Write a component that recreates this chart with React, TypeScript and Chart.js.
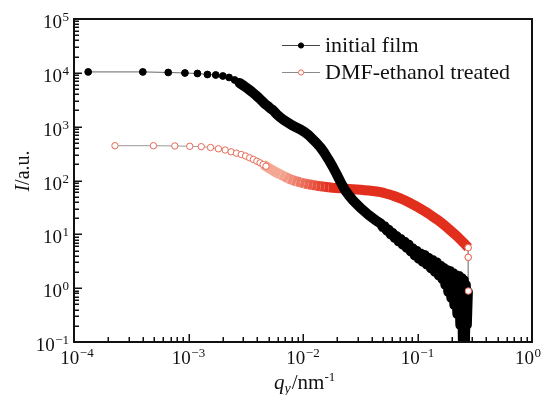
import React, { useEffect, useRef } from "react";
import { Chart, registerables } from "chart.js";

Chart.register(...registerables);

const FONT = '"Liberation Serif", "Times New Roman", serif';

// axis ranges and tick decades
const X_MIN = 1e-4;
const X_MAX = 1;
const Y_MIN = 0.1;
const Y_MAX = 1e5;
const xTickExponents = [-4, -3, -2, -1, 0];
const yTickExponents = [-1, 0, 1, 2, 3, 4, 5];

const seriesLabels = ["initial film", "DMF-ethanol treated"];

// initial film: q (nm^-1) and intensity (a.u.)
const filmQ = [
  1.33e-4, 3.99e-4, 6.65e-4, 9.31e-4, 1.197e-3, 1.463e-3, 1.729e-3, 1.995e-3, 2.261e-3, 2.527e-3,
  2.793e-3, 3.059e-3, 3.325e-3, 3.591e-3, 3.857e-3, 4.123e-3, 4.389e-3, 4.655e-3, 4.921e-3, 5.187e-3,
  5.453e-3,
  5.86e-3, 6.35e-3, 6.89e-3, 7.47e-3, 8.09e-3, 8.77e-3, 9.51e-3, 1.031e-2, 1.117e-2, 1.211e-2,
  1.313e-2, 1.423e-2, 1.542e-2, 1.672e-2, 1.812e-2, 1.964e-2, 2.129e-2, 2.308e-2, 2.502e-2, 2.712e-2,
  2.94e-2, 3.187e-2, 3.454e-2, 3.744e-2, 4.059e-2, 4.4e-2,
  4.77e-2, 4.966e-2, 5.17e-2, 5.38e-2, 5.6e-2, 5.83e-2, 6.07e-2, 6.32e-2, 6.58e-2, 6.85e-2,
  7.13e-2, 7.42e-2, 7.73e-2, 8.05e-2, 8.38e-2, 8.72e-2, 9.08e-2, 9.45e-2, 9.85e-2, 0.1025,
  0.1067, 0.1111, 0.1157, 0.1204, 0.1254, 0.1305, 0.1359, 0.1415, 0.1473, 0.1534,
  0.1597, 0.1647, 0.1697, 0.175, 0.1803, 0.1858, 0.1916, 0.1975, 0.2035, 0.2098,
  0.2162, 0.2229, 0.2297, 0.2367, 0.244, 0.249, 0.2541, 0.2592, 0.2645, 0.2698,
  0.2754,
];
const filmI = [
  10400, 10400, 10160, 9930, 9720, 9310, 9120, 8740, 8200, 7370,
  6480, 5700, 5010, 4410, 3880, 3410, 3000, 2640, 2420, 2180,
  2040,
  1722, 1482, 1303, 1170, 1051, 966, 887, 796, 700, 590,
  498, 410, 324, 245, 182, 132, 93.8, 68.1, 53.8, 43.5,
  36.6, 30.8, 26.6, 22.9, 20.1, 17.7,
  15.9, 13.7, 14.1, 11.8, 12.25, 10.0, 10.6, 8.55, 9.28, 7.36,
  8.19, 6.45, 7.27, 5.6, 6.45, 4.8, 5.51, 4.06, 4.93, 3.51,
  4.41, 3.1, 4.12, 2.74, 3.68, 2.37, 3.31, 2.02, 3.01, 1.72,
  2.58, 1.48, 2.37, 1.15, 2.18, 0.85, 2.08, 0.656, 1.91, 0.486,
  1.76, 0.331, 1.68, 0.207, 1.55, 0.109, 1.42, 0.071, 1.15, 0.207,
  0.85,
];

// DMF-ethanol treated film
const treatedQ = [
  2.28e-4, 4.94e-4, 7.6e-4, 1.026e-3, 1.292e-3, 1.558e-3, 1.824e-3, 2.09e-3, 2.356e-3, 2.622e-3,
  2.888e-3, 3.154e-3, 3.42e-3, 3.686e-3, 3.952e-3, 4.218e-3, 4.484e-3, 4.75e-3, 5.016e-3, 5.282e-3,
  5.548e-3,
  5.86e-3, 6.35e-3, 6.89e-3, 7.47e-3, 8.09e-3, 8.77e-3, 9.51e-3, 1.031e-2, 1.117e-2, 1.211e-2,
  1.313e-2, 1.423e-2, 1.542e-2, 1.672e-2, 1.812e-2, 1.964e-2, 2.129e-2, 2.308e-2, 2.502e-2, 2.712e-2,
  2.94e-2, 3.187e-2, 3.454e-2, 3.744e-2, 4.059e-2, 4.4e-2, 4.77e-2, 5.17e-2, 5.6e-2, 6.07e-2,
  6.58e-2, 7.13e-2, 7.73e-2, 8.38e-2, 9.08e-2, 9.85e-2, 0.1067, 0.1157, 0.1254, 0.1359,
  0.1473, 0.1597, 0.1733, 0.1878, 0.2035, 0.2206, 0.2391, 0.2592,
  0.277, 0.2775, 0.278,
];
const treatedI = [
  443, 443, 438, 432, 425, 410, 388, 369, 341, 322,
  304, 285, 264, 246, 228, 213, 198, 184, 171, 160,
  150,
  141, 129, 119, 109, 102, 95.9, 91.9, 88.0, 85.0, 82.5,
  80.1, 78.0, 76.4, 74.8, 73.5, 72.6, 71.6, 70.7, 69.8, 69.0,
  68.1, 67.2, 66.1, 65.0, 63.8, 62.5, 60.7, 58.1, 55.4, 52.7,
  49.4, 46.3, 42.9, 39.5, 36.1, 32.9, 29.8, 26.9, 24.1, 21.4,
  19.0, 16.7, 14.6, 12.6, 10.8, 9.31, 7.85, 6.62,
  5.65, 3.74, 0.885,
];

// index boundaries where discrete markers merge into a dense band
const FILM_MARKER_END = 20;
const FILM_BAND_START = 10;
const TREATED_MARKER_END = 17;
const TREATED_BAND_START = 16;
const TREATED_BAND_END = treatedQ.length - 3;

const toPoints = (qs: number[], is: number[]) => qs.map((q, i) => ({ x: q, y: is[i] }));

function redShade(q: number) {
  const a = Math.log10(6e-3);
  const b = Math.log10(1.6e-2);
  let t = (Math.log10(q) - a) / (b - a);
  t = Math.max(0, Math.min(1, t));
  const c0 = [244, 168, 148];
  const c1 = [226, 46, 28];
  const c = c0.map((v, k) => Math.round(v + (c1[k] - v) * t));
  return `rgb(${c[0]},${c[1]},${c[2]})`;
}

const RED_RING = "rgb(232,105,85)";

function drawPow(
  ctx: CanvasRenderingContext2D,
  exp: string,
  x: number,
  baseline: number,
  align: "center" | "right",
  clampRight: number
) {
  ctx.font = `19px ${FONT}`;
  const wb = ctx.measureText("10").width;
  ctx.font = `13px ${FONT}`;
  const ws = ctx.measureText(exp).width;
  const total = wb + ws + 0.5;
  let start = align === "center" ? x - total / 2 : x - total;
  if (start + total > clampRight) start = clampRight - total;
  ctx.textAlign = "left";
  ctx.textBaseline = "alphabetic";
  ctx.font = `19px ${FONT}`;
  ctx.fillText("10", start, baseline);
  ctx.font = `13px ${FONT}`;
  ctx.fillText(exp, start + wb + 0.5, baseline - 7);
}

function expText(e: number) {
  return e < 0 ? "\u2212" + String(-e) : String(e);
}

const decorPlugin = {
  id: "decor",
  afterDatasetsDraw(chart: any) {
    const ctx: CanvasRenderingContext2D = chart.ctx;
    const { left, right, top, bottom } = chart.chartArea;
    const xs = chart.scales.x;
    const ys = chart.scales.y;
    ctx.save();
    ctx.fillStyle = "#111";
    ctx.strokeStyle = "#111";

    // inward ticks
    ctx.lineWidth = 1.5;
    for (let d = -4; d <= 0; d++) {
      for (let m = 1; m <= 9; m++) {
        const v = m * Math.pow(10, d);
        if (v < X_MIN * 0.999 || v > X_MAX * 1.001) continue;
        const px = Math.round(xs.getPixelForValue(v)) + 0.25;
        const len = m === 1 ? 8 : 5;
        ctx.beginPath();
        ctx.moveTo(px, bottom);
        ctx.lineTo(px, bottom - len);
        ctx.stroke();
      }
    }
    for (let d = -1; d <= 5; d++) {
      for (let m = 1; m <= 9; m++) {
        const v = m * Math.pow(10, d);
        if (v < Y_MIN * 0.999 || v > Y_MAX * 1.001) continue;
        const py = Math.round(ys.getPixelForValue(v)) + 0.25;
        const len = m === 1 ? 8 : 5;
        ctx.beginPath();
        ctx.moveTo(left, py);
        ctx.lineTo(left + len, py);
        ctx.stroke();
      }
    }

    // frame
    ctx.lineWidth = 2;
    ctx.strokeRect(left, top, right - left, bottom - top);

    // tick labels
    for (const e of xTickExponents) {
      const px = xs.getPixelForValue(Math.pow(10, e));
      drawPow(ctx, expText(e), px + (e === -4 ? 3 : 0), 364, "center", 541);
    }
    for (const e of yTickExponents) {
      const py = ys.getPixelForValue(Math.pow(10, e));
      drawPow(ctx, expText(e), 69, py + 9, "right", 541);
    }

    // x title: q_y / nm^-1
    ctx.textAlign = "left";
    ctx.textBaseline = "alphabetic";
    let cx = 274;
    const runs = [
      { t: "q", f: `italic 21px ${FONT}`, dy: 0 },
      { t: "y", f: `italic 14px ${FONT}`, dy: 4 },
      { t: "/nm", f: `21px ${FONT}`, dy: 0 },
      { t: "-1", f: `13px ${FONT}`, dy: -8 },
    ];
    for (const r of runs) {
      ctx.font = r.f;
      ctx.fillText(r.t, cx, 389 + r.dy);
      cx += ctx.measureText(r.t).width + (r.t === "y" ? 1 : 0);
    }

    // y title: I / a.u.
    ctx.save();
    ctx.translate(29, 171);
    ctx.rotate(-Math.PI / 2);
    ctx.font = `italic 20px ${FONT}`;
    const w1 = ctx.measureText("I").width;
    ctx.font = `20px ${FONT}`;
    const w2 = ctx.measureText("/a.u.").width;
    const sx = -(w1 + w2) / 2;
    ctx.font = `italic 20px ${FONT}`;
    ctx.fillText("I", sx, 0);
    ctx.font = `20px ${FONT}`;
    ctx.fillText("/a.u.", sx + w1, 0);
    ctx.restore();

    // legend
    const rows = [
      { y: 45, line: "#444", fill: "#000", stroke: "#000", r: 2.6 },
      { y: 72, line: "#8a8a8a", fill: "#fff", stroke: RED_RING, r: 2.6 },
    ];
    rows.forEach((row, i) => {
      ctx.strokeStyle = row.line;
      ctx.lineWidth = 1;
      ctx.beginPath();
      ctx.moveTo(282, row.y + 0.5);
      ctx.lineTo(320, row.y + 0.5);
      ctx.stroke();
      ctx.beginPath();
      ctx.arc(301, row.y + 0.5, row.r, 0, Math.PI * 2);
      ctx.fillStyle = row.fill;
      ctx.fill();
      ctx.strokeStyle = row.stroke;
      ctx.stroke();
      ctx.fillStyle = "#111";
      ctx.font = `22px ${FONT}`;
      ctx.textAlign = "left";
      ctx.textBaseline = "middle";
      ctx.fillText(seriesLabels[i], 325, row.y + 1);
    });

    ctx.restore();
  },
};

export default function App() {
  const ref = useRef<HTMLCanvasElement | null>(null);

  useEffect(() => {
    if (!ref.current) return;
    const filmPts = toPoints(filmQ, filmI);
    const treatedPts = toPoints(treatedQ, treatedI);
    const endPts = treatedPts.slice(TREATED_BAND_END);

    const chart = new Chart(ref.current, {
      type: "scatter",
      data: {
        datasets: [
          {
            label: seriesLabels[1] + " (end)",
            data: endPts,
            showLine: false,
            pointRadius: 3.2,
            pointBorderWidth: 1,
            pointBorderColor: RED_RING,
            pointBackgroundColor: "#fff",
            order: 0,
          },
          {
            label: seriesLabels[0],
            data: filmPts,
            showLine: true,
            clip: 0,
            borderColor: "#555",
            borderWidth: 1,
            borderJoinStyle: "round",
            borderCapStyle: "round",
            pointRadius: (c: any) => (c.dataIndex <= FILM_MARKER_END ? 3.4 : 0),
            pointBorderWidth: 1,
            pointBorderColor: "#000",
            pointBackgroundColor: "#000",
            segment: {
              borderWidth: (c: any) => (c.p0DataIndex >= FILM_BAND_START ? 10 : 1),
              borderColor: (c: any) => (c.p0DataIndex >= FILM_BAND_START ? "#000" : "#666"),
            },
            order: 1,
          },
          {
            label: seriesLabels[1],
            data: treatedPts,
            showLine: true,
            clip: 0,
            borderColor: "#999",
            borderWidth: 1,
            borderJoinStyle: "round",
            borderCapStyle: "butt",
            pointRadius: (c: any) =>
              c.dataIndex <= TREATED_MARKER_END || c.dataIndex >= TREATED_BAND_END ? 3.2 : 0,
            pointBorderWidth: 1,
            pointBorderColor: RED_RING,
            pointBackgroundColor: "#fff",
            segment: {
              borderWidth: (c: any) =>
                c.p0DataIndex >= TREATED_BAND_START && c.p0DataIndex < TREATED_BAND_END ? 10 : 1,
              borderColor: (c: any) =>
                c.p0DataIndex >= TREATED_BAND_START && c.p0DataIndex < TREATED_BAND_END
                  ? redShade(treatedQ[c.p0DataIndex])
                  : "#999",
            },
            order: 2,
          },
        ],
      },
      options: {
        responsive: false,
        maintainAspectRatio: false,
        animation: false,
        events: [],
        layout: { padding: { left: 74, top: 19, right: 10, bottom: 53 } },
        scales: {
          x: { type: "logarithmic", min: X_MIN, max: X_MAX, display: false },
          y: { type: "logarithmic", min: Y_MIN, max: Y_MAX, display: false },
        },
        plugins: { legend: { display: false }, tooltip: { enabled: false } },
      },
      plugins: [decorPlugin],
    } as any);
    return () => chart.destroy();
  }, []);

  return (
    <div style={{ position: "fixed", left: 0, top: 0, width: 542, height: 395, background: "#fff" }}>
      <canvas ref={ref} width={542} height={395} style={{ width: 542, height: 395, display: "block" }} />
    </div>
  );
}
